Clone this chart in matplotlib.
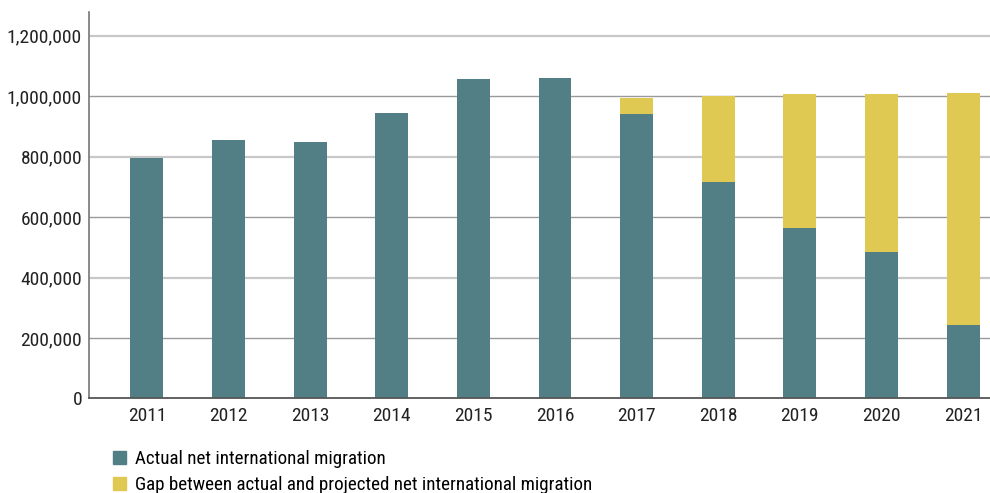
import matplotlib
matplotlib.use("Agg")
import matplotlib.pyplot as plt
from matplotlib.patches import Patch
from matplotlib.ticker import FuncFormatter
import numpy as np

years = ["2011", "2012", "2013", "2014", "2015", "2016",
         "2017", "2018", "2019", "2020", "2021"]
actual = [795000, 854000, 848000, 944000, 1056000, 1059000,
          940000, 715000, 563000, 484000, 243000]
projected = [None, None, None, None, None, None,
             993000, 1000000, 1006000, 1006000, 1010000]
gap = [0 if p is None else p - a for a, p in zip(actual, projected)]

TEAL = "#527f86"
YELLOW = "#dfc953"

plt.rcParams["font.family"] = ["Roboto Condensed", "Roboto", "DejaVu Sans"]

fig = plt.figure(figsize=(9.9, 4.93), dpi=100)
ax = fig.add_axes([0.0899, 0.1917, 0.9101, 0.784])

x = np.arange(len(years))
ax.bar(x, actual, width=0.404, color=TEAL, zorder=3)
ax.bar(x, gap, width=0.404, bottom=actual, color=YELLOW, zorder=3)

ax.set_xlim(-0.71, 10.33)
ax.set_ylim(0, 1278000)
ax.set_yticks(range(0, 1200001, 200000))
ax.yaxis.set_major_formatter(FuncFormatter(lambda v, _: f"{int(v):,}"))
ax.set_xticks(x)
ax.set_xticklabels(years)

# alternating gridline look from the reference
grid_cols = {200000: "#9a9a9a", 400000: "#c8c8c8", 600000: "#9a9a9a",
             800000: "#c8c8c8", 1000000: "#9a9a9a", 1200000: "#c8c8c8"}
for v, c in grid_cols.items():
    lw = 1.0 if c == "#9a9a9a" else 1.6
    ax.axhline(v, color=c, lw=lw, zorder=1)

ax.tick_params(axis="both", length=0, labelsize=14, colors="#222222")
ax.tick_params(axis="x", pad=6)
ax.tick_params(axis="y", pad=5)
for s in ("top", "right"):
    ax.spines[s].set_visible(False)
ax.spines["left"].set_color("#777777")
ax.spines["left"].set_linewidth(1.2)
ax.spines["bottom"].set_color("#555555")
ax.spines["bottom"].set_linewidth(1.3)
ax.spines["bottom"].set_zorder(4)

handles = [Patch(color=TEAL, label="Actual net international migration"),
           Patch(color=YELLOW, label="Gap between actual and projected net international migration")]
fig.legend(handles=handles, loc="upper left", bbox_to_anchor=(0.114, 0.087),
           frameon=False, fontsize=13.7, handlelength=0.68, handleheight=0.68,
           handletextpad=0.5, labelspacing=0.42, borderaxespad=0, borderpad=0)

fig.savefig("out.png", dpi=100)
